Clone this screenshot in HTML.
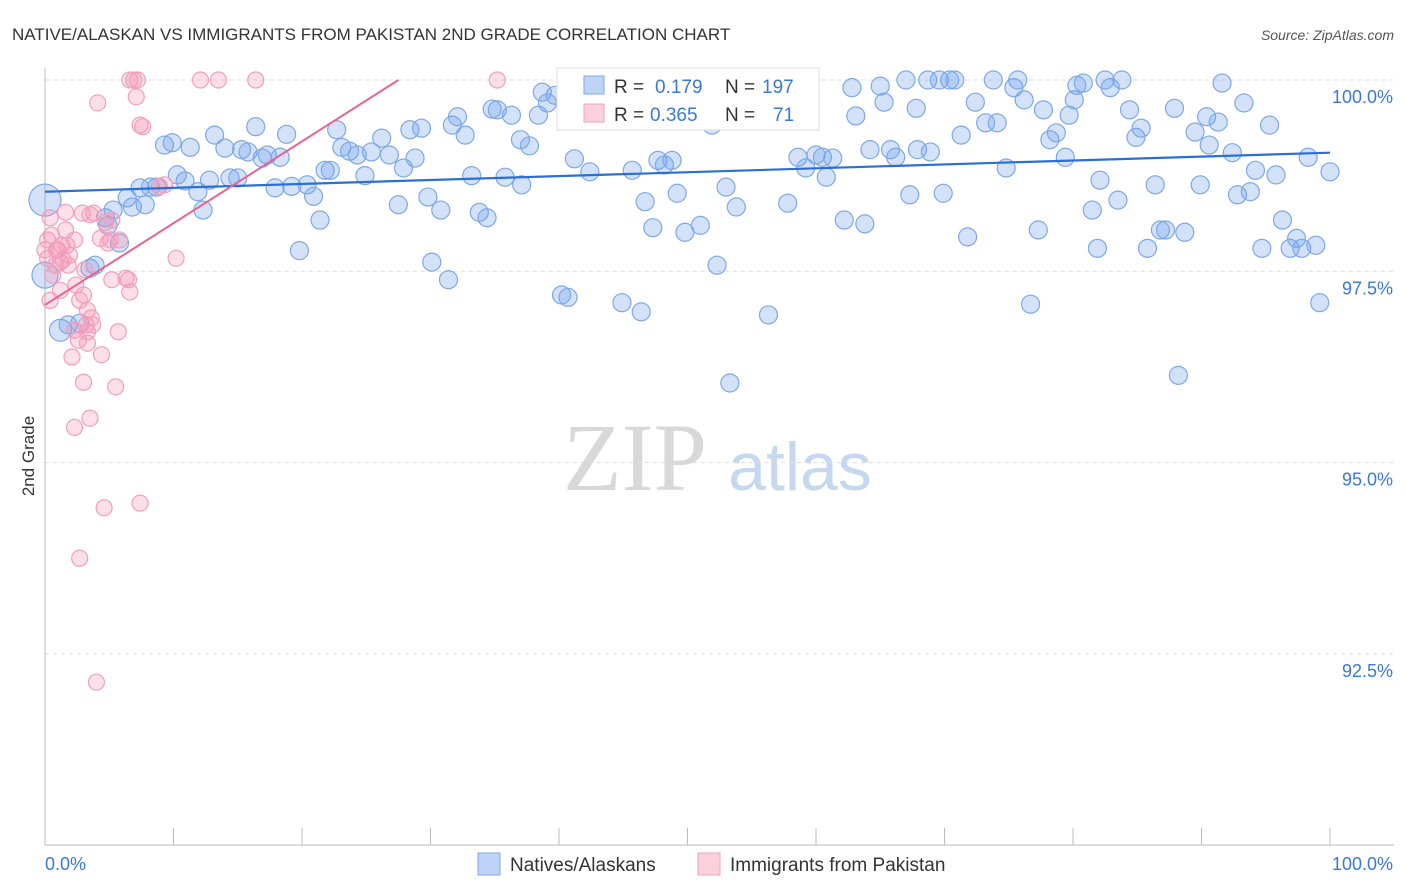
<!DOCTYPE html>
<html><head><meta charset="utf-8"><style>
body{margin:0;background:#fff;font-family:"Liberation Sans",sans-serif;}
svg{display:block}
</style></head><body>
<svg id="chart" width="1406" height="892">
<text x="12" y="40" font-size="17" fill="#333">NATIVE/ALASKAN VS IMMIGRANTS FROM PAKISTAN 2ND GRADE CORRELATION CHART</text>
<text x="1394" y="40" font-size="14" fill="#555" font-style="italic" text-anchor="end">Source: ZipAtlas.com</text>
<text x="34" y="456" font-size="17" fill="#333" text-anchor="middle" transform="rotate(-90 34 456)">2nd Grade</text>
<g><text x="635" y="490" font-size="96" fill="#d8d8d8" font-family="Liberation Serif,serif" text-anchor="middle">ZIP</text><text x="800" y="490" font-size="68" fill="#c5d8f0" text-anchor="middle">atlas</text></g>
<g id="grid"></g><g id="axes"></g><g id="pts"></g><g id="trend"></g>
<g>
<rect x="557" y="68" width="262" height="62" fill="#fff" stroke="#ddd"/>
<rect x="584" y="76" width="20" height="18" fill="rgba(110,160,235,0.45)" stroke="#7ea8e6"/>
<text x="614" y="93" font-size="19" fill="#333">R = </text><text x="655" y="93" font-size="19" fill="#3a78d8">0.179</text>
<text x="725" y="93" font-size="19" fill="#333">N = </text><text x="762" y="93" font-size="19" fill="#3a78d8">197</text>
<rect x="584" y="104" width="20" height="18" fill="rgba(245,150,180,0.45)" stroke="#f0a0bc"/>
<text x="614" y="121" font-size="19" fill="#333">R = </text><text x="650" y="121" font-size="19" fill="#3a78d8">0.365</text>
<text x="725" y="121" font-size="19" fill="#333">N = </text><text x="773" y="121" font-size="19" fill="#3a78d8">71</text>
</g>
<g>
<rect x="478" y="853" width="22" height="22" fill="rgba(110,160,235,0.45)" stroke="#7ea8e6"/>
<text x="510" y="871" font-size="19" fill="#333">Natives/Alaskans</text>
<rect x="698" y="853" width="22" height="22" fill="rgba(245,150,180,0.45)" stroke="#f0a0bc"/>
<text x="730" y="871" font-size="19" fill="#333">Immigrants from Pakistan</text>
</g>
</svg>
<script>
const yTicks=[100,97.5,95,92.5];
const yTickLabels=["100.0%","97.5%","95.0%","92.5%"];
const xTickLabels=["0.0%","100.0%"];
const blueX=[0,0,1.2,1.8,2.7,3.5,3.9,4.7,4.9,5.3,5.8,6.4,6.8,7.4,7.8,8.2,8.7,9.3,9.9,10.3,10.9,11.3,11.9,12.3,12.8,13.2,14.0,14.4,15.0,15.3,15.8,16.4,16.9,17.3,17.9,18.3,18.8,19.2,19.8,20.4,20.9,21.4,21.8,22.2,22.7,23.1,23.7,24.3,24.9,25.4,26.2,26.8,27.5,27.9,28.4,28.8,29.3,29.8,30.1,30.8,31.4,31.7,32.1,32.7,33.2,33.8,34.4,34.8,35.2,35.8,36.3,37.0,37.1,37.7,38.4,38.7,39.1,39.7,40.2,40.7,41.2,42.4,43.0,43.6,44.0,44.9,45.7,46.4,46.7,47.3,47.7,48.2,48.8,49.2,49.8,51.0,51.9,52.3,53.0,53.3,53.8,54.5,55.5,56.3,57.8,58.6,59.2,60.0,60.5,60.8,61.3,62.2,62.8,63.1,63.8,64.2,65.0,65.3,65.8,66.2,67.0,67.3,67.8,67.9,68.7,68.9,69.6,69.9,70.4,70.8,71.3,71.8,72.4,73.2,73.8,74.1,74.8,75.4,75.7,76.2,77.3,76.7,77.7,78.2,78.7,79.4,79.7,80.1,80.3,80.8,81.5,81.9,82.1,82.5,82.9,83.5,83.8,84.4,84.9,85.3,85.8,86.4,86.8,87.2,88.2,87.9,88.7,89.5,89.9,90.4,90.6,91.3,91.6,92.4,92.8,93.3,93.8,94.2,94.7,95.3,95.8,96.3,96.9,97.4,97.8,98.3,98.9,99.2,100];
const blueY=[98.43,97.45,96.73,96.80,96.82,97.54,97.58,98.20,98.10,98.30,97.87,98.46,98.34,98.59,98.37,98.60,98.60,99.15,99.18,98.76,98.68,99.12,98.54,98.30,98.69,99.28,99.11,98.72,98.72,99.09,99.06,99.39,98.98,99.02,98.59,98.99,99.29,98.61,97.77,98.63,98.48,98.17,98.82,98.82,99.35,99.12,99.07,99.02,98.75,99.06,99.24,99.02,98.37,98.85,99.35,98.98,99.37,98.47,97.62,98.30,97.39,99.41,99.52,99.28,98.75,98.27,98.20,99.62,99.61,98.73,99.54,99.22,98.63,99.14,99.54,99.84,99.70,99.80,97.19,97.16,98.97,98.80,99.50,99.67,99.48,97.09,98.82,96.97,98.41,98.07,98.95,98.89,98.95,98.52,98.01,98.10,99.41,97.58,98.60,96.04,98.34,99.48,99.74,96.93,98.39,98.99,98.85,99.02,98.99,98.73,98.98,98.17,99.90,99.53,98.12,99.09,99.92,99.71,99.09,98.99,100,98.50,99.63,99.09,100,99.06,100,98.52,100,100,99.28,97.95,99.71,99.44,100,99.44,98.85,99.90,100,99.74,98.04,97.07,99.61,99.22,99.31,98.99,99.54,99.74,99.93,99.96,98.30,97.80,98.69,100,99.90,98.43,100,99.61,99.25,99.37,97.80,98.63,98.04,98.04,96.14,99.63,98.01,99.32,98.63,99.52,99.15,99.45,99.96,99.05,98.50,99.70,98.54,98.82,97.80,99.41,98.76,98.17,97.80,97.93,97.80,98.99,97.84,97.09,98.80];
const pinkX=[0,0.2,0.2,0.4,0.5,0.8,0.4,1.0,1.2,1.3,1.6,1.6,1.7,1.9,2.1,2.3,2.3,2.4,2.6,2.7,2.9,3.0,3.0,3.1,3.2,3.3,3.3,3.5,3.6,3.7,3.8,4.0,4.1,4.3,4.4,4.6,4.7,5.1,5.2,5.5,5.7,5.8,6.3,6.5,6.6,6.6,6.9,7.1,7.2,7.4,7.4,7.6,8.9,10.2,12.1,13.5,16.4,35.2,0.6,0.9,1.2,1.4,1.8,2.3,2.7,3.3,3.5,4.9,5.2,9.3];
const pinkY=[97.78,97.91,97.67,98.20,97.97,97.58,97.12,97.78,97.62,97.84,98.27,98.04,97.84,97.71,96.38,97.91,95.46,97.32,96.60,93.75,98.26,96.05,97.19,97.52,96.80,96.71,96.99,95.58,96.89,96.80,98.26,92.13,99.70,97.93,96.41,94.41,98.14,97.91,97.39,95.99,96.71,97.91,97.41,97.39,97.23,100,100,99.78,100,94.47,99.41,99.39,98.61,97.67,100,100,100,100,97.45,97.78,97.25,97.65,97.58,96.73,97.12,96.56,98.24,97.87,98.17,98.63];
const blueTrend=[98.54,99.05];
const pinkTrend=[97.06,100.0];
const NS="http://www.w3.org/2000/svg";
const X=v=>45+v*12.85, Y=v=>80+(100-v)*76.52;
function mk(tag,attrs,parent){const e=document.createElementNS(NS,tag);for(const k in attrs)e.setAttribute(k,attrs[k]);document.getElementById(parent).appendChild(e);return e;}
yTicks.forEach((t,i)=>{
 const g=mk('line',{x1:45,x2:1394,y1:Y(t),y2:Y(t),stroke:'#ddd','stroke-dasharray':'4,4'},'grid');
 
 
 const l=mk('text',{x:1393,y:Y(t)+23,'font-size':18,fill:'#3a78d8','text-anchor':'end'},'axes');
 l.textContent=yTickLabels[i];
 
 
});
let ax=mk('line',{x1:45,x2:45,y1:68,y2:845,stroke:'#bbb'},'axes');


ax=mk('line',{x1:45,x2:1394,y1:845,y2:845,stroke:'#bbb'},'axes');


for(let i=0;i<=10;i++){const t=mk('line',{x1:X(i*10),x2:X(i*10),y1:828,y2:845,stroke:'#bbb'},'axes');
 
 }
[[0,'start',45],[100,'end',1393]].forEach((p,i)=>{const t=mk('text',{x:p[2],y:870,'font-size':18,fill:'#3a78d8','text-anchor':p[1]},'axes');t.textContent=xTickLabels[i];
 
 });
blueX.forEach((x,i)=>{const r=i==0?16:(i==1?13:(i==2?11:9));
 const c=mk('circle',{cx:X(x),cy:Y(blueY[i]),r:r,fill:'rgba(110,160,235,0.3)',stroke:'#7ea8e6','stroke-width':1.2},'pts');
 
 });
pinkX.forEach((x,i)=>{const c=mk('circle',{cx:X(x),cy:Y(pinkY[i]),r:8,fill:'rgba(245,150,180,0.3)',stroke:'#f0a0bc','stroke-width':1.2},'pts');
 
 });
let tl=mk('line',{x1:X(0),y1:Y(blueTrend[0]),x2:X(100),y2:Y(blueTrend[1]),stroke:'#2a6fd6','stroke-width':2.2},'trend');


const pe=27.5;
tl=mk('line',{x1:X(0),y1:Y(pinkTrend[0]),x2:X(pe),y2:Y(pinkTrend[1]),stroke:'#e8638f','stroke-width':2},'trend');


</script>
</body></html>
